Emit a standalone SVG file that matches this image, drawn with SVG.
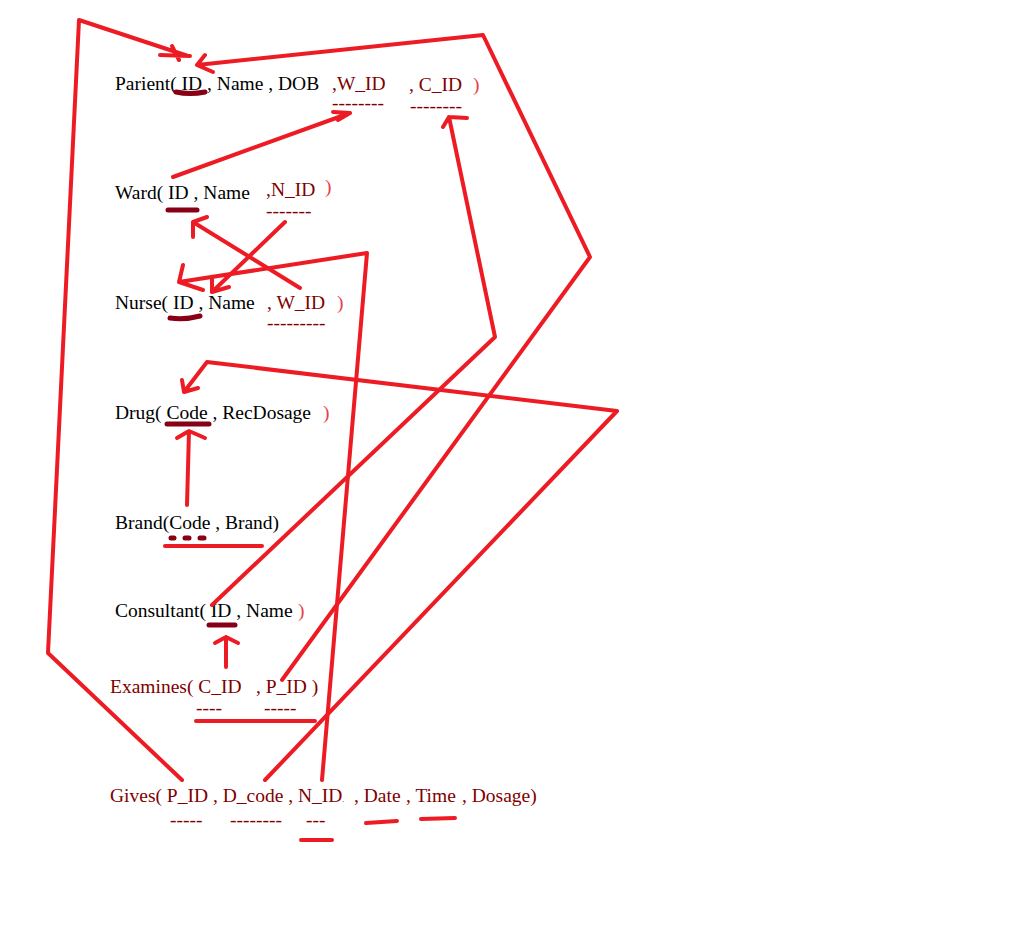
<svg xmlns="http://www.w3.org/2000/svg" width="1020" height="937" viewBox="0 0 1020 937">
<style>
text{font-family:"Liberation Serif","Times New Roman",serif;font-size:19.5px}
.k{fill:#000}
.d{fill:#7f0000}
.p{fill:#e8404a}
.ln{fill:none;stroke:#ed1c24;stroke-width:4;stroke-linecap:round;stroke-linejoin:round}
.ul{fill:none;stroke:#880015;stroke-width:5;stroke-linecap:round}
</style>
<rect width="1020" height="937" fill="#fff"/>
<g id="parient">
<text x="115" y="90" class="k">Parient( ID , Name , DOB</text>
<text x="332" y="90" class="d">,W_ID</text>
<text x="409" y="91" class="d">, C_ID</text>
<text x="473" y="91" class="p">)</text>
<text x="332" y="109" class="d">--------</text>
<text x="410" y="112" class="d">--------</text>
<path class="ul" d="M176,92 Q190,95 205,92"/>
</g>
<g id="ward">
<text x="115" y="199" class="k">Ward( ID , Name</text>
<text x="266" y="196" class="d">,N_ID</text>
<text x="325" y="193" class="p">)</text>
<text x="266" y="217" class="d">-------</text>
<path class="ul" d="M168,210 L197,210"/>
</g>
<g id="nurse">
<text x="115" y="309" class="k">Nurse( ID , Name</text>
<text x="267" y="309" class="d">, W_ID</text>
<text x="337" y="309" class="p">)</text>
<text x="267" y="329" class="d">---------</text>
<path class="ul" d="M170,318 Q185,320 200,316"/>
</g>
<g id="drug">
<text x="115" y="419" class="k">Drug( Code , RecDosage</text>
<text x="323" y="419" class="p">)</text>
<path class="ul" d="M167,424 L209,424"/>
</g>
<g id="brand">
<text x="115" y="529" class="k">Brand(Code , Brand)</text>
<path class="ul" d="M171,538 L174,538 M185,538 L189,538 M200,538 L204,538"/>
<path class="ln" d="M165,546 L262,546"/>
</g>
<g id="consultant">
<text x="115" y="617" class="k">Consultant( ID , Name</text>
<text x="298" y="617" class="p">)</text>
<path class="ul" d="M209,625 L235,625"/>
</g>
<g id="examines">
<text y="693" class="d"><tspan x="110">Examines( C_ID</tspan><tspan x="256">, P_ID )</tspan></text>
<text x="196" y="714" class="d">----</text>
<text x="264" y="714" class="d">-----</text>
<path class="ln" d="M196,721 L315,721"/>
</g>
<g id="gives">
<text y="802" class="d"><tspan x="110">Gives( P_ID , D_code , N_ID</tspan><tspan font-size="8">.</tspan><tspan x="354">, Date</tspan><tspan x="406">, Time</tspan><tspan x="462">, Dosage)</tspan></text>
<text x="170" y="826" class="d">-----</text>
<text x="230" y="826" class="d">--------</text>
<text x="306" y="826" class="d">---</text>
<path class="ln" d="M301,840 L332,840 M366,823 L397,821 M421,819 L455,818"/>
</g>
<g id="connectors">
<path class="ln" d="M182,780 L48,653 L79,20 L188,56 M160,55 L190,56 M172,46 L179,60"/>
<path class="ln" d="M282,680 L590,257 L483,35 L197,65 M205,55 L197,65 L213,72"/>
<path class="ln" d="M173,177 L350,113 M333,112 L350,113 L338,120"/>
<path class="ln" d="M212,605 L495,337 L449,117 M467,118 L449,117 L443,127"/>
<path class="ln" d="M322,780 L367,253 L179,282 M183,265 L179,282 L203,290"/>
<path class="ln" d="M285,222 L212,292 M212,278 L212,292 L229,287"/>
<path class="ln" d="M300,288 L193,222 M193,237 L193,222 L207,217"/>
<path class="ln" d="M265,780 L617,411 L207,362 L184,392 M182,380 L184,392 L198,388"/>
<path class="ln" d="M187,505 L189,431 M177,438 L189,431 L205,438"/>
<path class="ln" d="M226,667 L226,637 M215,643 L226,637 L238,643"/>
</g>
</svg>
